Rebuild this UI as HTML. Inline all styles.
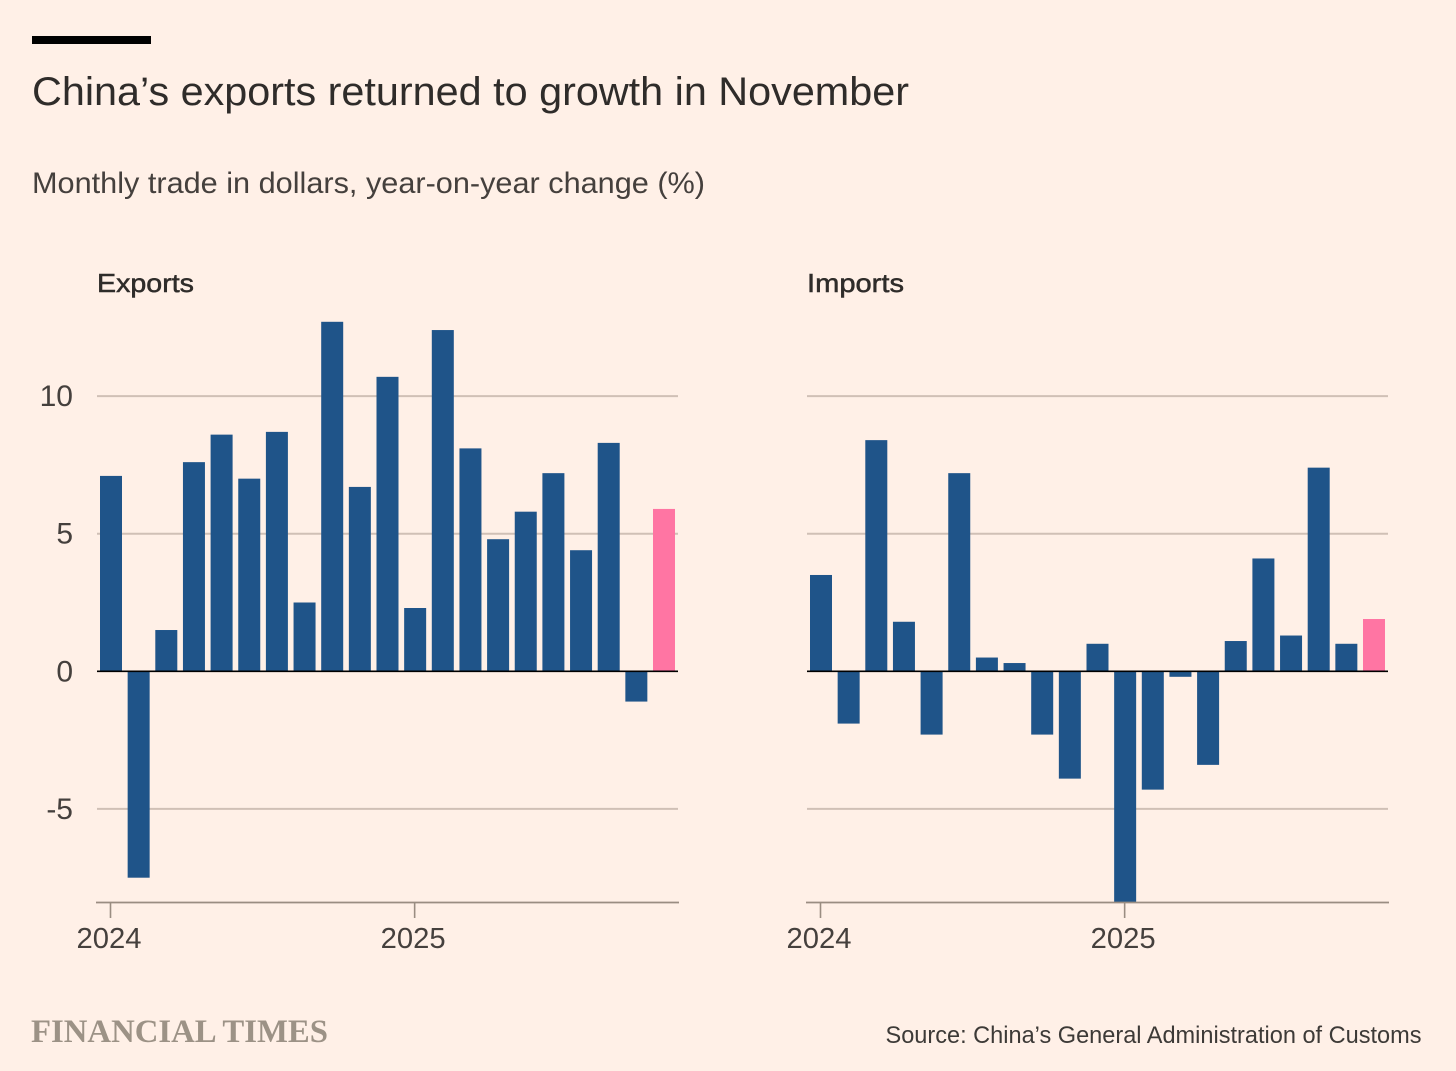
<!DOCTYPE html>
<html lang="en">
<head>
<meta charset="utf-8">
<title>China's exports returned to growth in November</title>
<style>
html,body{margin:0;padding:0;background:#fff0e7;}
svg{display:block;}
text{font-family:"Liberation Sans",sans-serif;}
</style>
</head>
<body>
<svg id="chart" width="1456" height="1071" viewBox="0 0 1456 1071" xmlns="http://www.w3.org/2000/svg">
  <rect x="0" y="0" width="1456" height="1071" fill="#fff0e7"/>
  <rect x="32" y="36" width="119" height="8" fill="#000"/>
  <text x="32" y="105" font-size="40" fill="#2f2c2a" textLength="877" lengthAdjust="spacingAndGlyphs">China’s exports returned to growth in November</text>
  <text x="32" y="193" font-size="30" fill="#45403d" textLength="673" lengthAdjust="spacingAndGlyphs">Monthly trade in dollars, year-on-year change (%)</text>
  <g id="panels"></g>
  <text x="31" y="1042" font-size="33" font-weight="bold" fill="#9c9286" style="font-family:'Liberation Serif',serif" textLength="297" lengthAdjust="spacingAndGlyphs">FINANCIAL TIMES</text>
  <text x="885.5" y="1043" font-size="24" fill="#3d3a37" textLength="536" lengthAdjust="spacingAndGlyphs">Source: China’s General Administration of Customs</text>
</svg>
<script>
const months = ["2024-01","2024-03","2024-04","2024-05","2024-06","2024-07","2024-08","2024-09","2024-10","2024-11","2024-12","2025-01","2025-03","2025-04","2025-05","2025-06","2025-07","2025-08","2025-09","2025-10","2025-11"];
const exportsValues = [7.1,-7.5,1.5,7.6,8.6,7.0,8.7,2.5,12.7,6.7,10.7,2.3,12.4,8.1,4.8,5.8,7.2,4.4,8.3,-1.1,5.9];
const importsValues = [3.5,-1.9,8.4,1.8,-2.3,7.2,0.5,0.3,-2.3,-3.9,1.0,-8.4,-4.3,-0.2,-3.4,1.1,4.1,1.3,7.4,1.0,1.9];
const yTicks = [-5,0,5,10];
const xTickLabels = ["2024","2025"];
const xTickMonths = ["2024-01","2025-01"];
const highlightMonth = "2025-11";

const NS = "http://www.w3.org/2000/svg";
const panels = document.getElementById("panels");
const yScale = v => 671.3 - v * 27.52;
const plotBottom = 902.5;

function make(tag, attrs, parent, txt) {
  const el = document.createElementNS(NS, tag);
  for (const k in attrs) el.setAttribute(k, attrs[k]);
  if (txt !== undefined) el.textContent = txt;
  parent.appendChild(el);
  return el;
}

function drawPanel(title, slug, values, left, showY) {
  const g = make("g", {}, panels);
  
  
  const right = left + 581;
  const xScale = i => left + 14 + i * 27.65;
  const barW = 22;

  const t = make("text", {x: left, y: 292, "font-size": 26, fill: "#2f2c2a", stroke: "#2f2c2a", "stroke-width": 0.5, textLength: 97, lengthAdjust: "spacingAndGlyphs"}, g, title);
  
  

  yTicks.filter(v => v !== 0).forEach(v => {
    const l = make("line", {x1: left, x2: right, y1: yScale(v), y2: yScale(v), stroke: "#d0c0b6", "stroke-width": 2}, g);
    
    
  });
  if (showY) {
    yTicks.forEach(v => {
      const yl = make("text", {x: 73, y: yScale(v) + 10, "font-size": 30, fill: "#45403d", "text-anchor": "end"}, g, String(v));
      
      
    });
  }

  values.forEach((v, i) => {
    const top = yScale(Math.max(v, 0));
    const bot = Math.min(yScale(Math.min(v, 0)), plotBottom);
    const b = make("rect", {x: xScale(i) - barW / 2, y: top, width: barW, height: Math.max(bot - top, 0), fill: months[i] === highlightMonth ? "#ff75a3" : "#1f5489"}, g);
    
    
    make("title", {}, b, slug + " " + months[i] + ": " + v + "%");
  });

  const zero = make("line", {x1: left, x2: right, y1: yScale(0), y2: yScale(0), stroke: "#000", "stroke-width": 1.6}, g);
  
  

  const axis = make("line", {x1: left - 1, x2: right + 1, y1: plotBottom, y2: plotBottom, stroke: "#9a8d82", "stroke-width": 1.8}, g);
  
  

  xTickMonths.forEach((m, k) => {
    const x = xScale(months.indexOf(m)) - 0.5;
    const tk = make("line", {x1: x, x2: x, y1: plotBottom, y2: 918, stroke: "#9a8d82", "stroke-width": 1.6}, g);
    
    
    const lb = make("text", {x: x - 34, y: 948, "font-size": 29, fill: "#45403d", textLength: 65, lengthAdjust: "spacingAndGlyphs"}, g, xTickLabels[k]);
    
    
  });
}

drawPanel("Exports", "exports", exportsValues, 97, true);
drawPanel("Imports", "imports", importsValues, 807, false);
</script>
</body>
</html>
